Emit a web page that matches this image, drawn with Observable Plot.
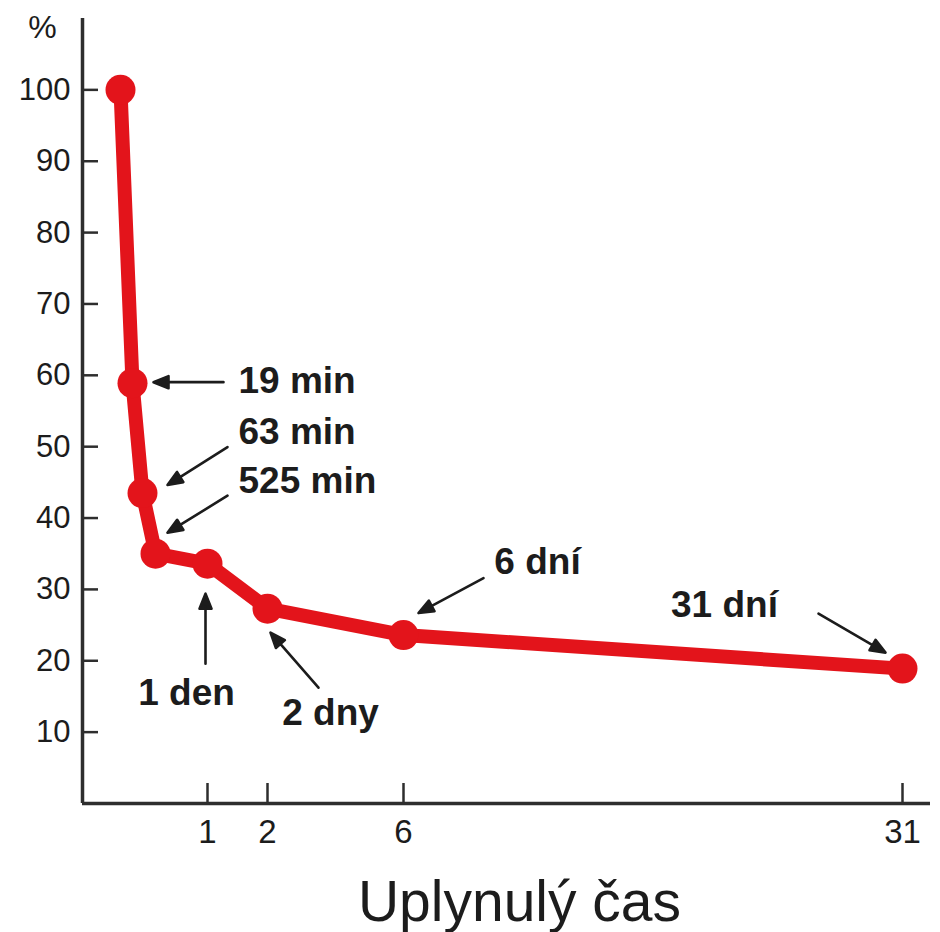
<!DOCTYPE html>
<html>
<head>
<meta charset="utf-8">
<script src="https://cdn.jsdelivr.net/npm/d3@7"></script>
<script src="https://cdn.jsdelivr.net/npm/@observablehq/plot@0.6"></script>
<style>
  html, body { margin: 0; padding: 0; background: #fff; }
  #chart svg { display: block; }
</style>
</head>
<body>
<div id="chart"></div>
<script>
// ---- data ----
const pointLabels = ["0 min", "19 min", "63 min", "525 min", "1 den", "2 dny", "6 dní", "31 dní"];
const elapsedMinutes = [0, 19, 63, 525, 1440, 2880, 8640, 44640];
const retainedPct = [100, 58.9, 43.5, 35.0, 33.6, 27.3, 23.6, 18.9];
const xTickDays = [1, 2, 6, 31];
const yTickValues = [10, 20, 30, 40, 50, 60, 70, 80, 90, 100];
const yAxisLabel = "%";
const xAxisLabel = "Uplynulý čas";

// ---- derived table ----
const points = elapsedMinutes.map((m, i) => ({
  label: pointLabels[i],
  days: m / 1440,
  pct: retainedPct[i]
}));

// ---- layout / style ----
const red = "#e3141b";
const ink = "#1c1c1c";
const axisInk = "#2e2e2e";
const font = "'Liberation Sans', Arial, Helvetica, sans-serif";
const xOrigin = -1; // position of the vertical axis line on the hand-drawn time axis
// hand-drawn, non-uniform time axis (piecewise linear)
const xDomain = [xOrigin, ...points.map(d => d.days)];
const xRange = [82, 120, 132, 142, 155, 207, 267, 403, 902];

// annotation placement relative to its data point (pixels)
const annotationLayout = [
  {i: 1, text: [106, -2], anchor: "start",  tip: [21, -1],  tail: [91, -1]},
  {i: 2, text: [96, -61], anchor: "start",  tip: [25, -8],  tail: [85, -46]},
  {i: 3, text: [83, -73], anchor: "start",  tip: [12, -21], tail: [72, -58]},
  {i: 4, text: [-21, 129], anchor: "middle", tip: [-2, 30], tail: [-2, 100]},
  {i: 5, text: [63, 104], anchor: "middle", tip: [3, 24],   tail: [51, 79]},
  {i: 6, text: [134, -73], anchor: "middle", tip: [15, -22], tail: [80, -57]},
  {i: 7, text: [-178, -63], anchor: "middle", tip: [-17, -16], tail: [-84, -55]}
];

const filledArrow = {
  draw(context, l) {
    const h = 15, w = 6;
    context.moveTo(0, 0);
    context.lineTo(0, -l + h - 2);
    context.moveTo(0, -l);
    context.lineTo(-w, -l + h);
    context.lineTo(w, -l + h);
    context.closePath();
  }
};

const annotationMarks = annotationLayout.flatMap(a => {
  const p = points[a.i];
  const vx = a.tip[0] - a.tail[0], vy = a.tip[1] - a.tail[1];
  const len = Math.hypot(vx, vy);
  const rot = Math.atan2(vx, -vy) * 180 / Math.PI;
  return [
    Plot.vector([p], {
      x: "days", y: "pct", dx: a.tip[0], dy: a.tip[1],
      anchor: "end", length: len, rotate: rot, shape: filledArrow,
      stroke: ink, fill: ink, strokeWidth: 2.6
    }),
    Plot.text([p], {
      x: "days", y: "pct", text: "label", dx: a.text[0], dy: a.text[1],
      textAnchor: a.anchor, lineAnchor: "middle",
      fontSize: 37, fontWeight: "bold", fill: ink
    })
  ];
});

const chart = Plot.plot({
  width: 940,
  height: 932,
  marginLeft: 82,
  marginRight: 10,
  marginTop: 18,
  marginBottom: 129,
  style: {fontFamily: font, background: "#fff", color: ink},
  x: {type: "linear", domain: xDomain, range: xRange, axis: null},
  y: {domain: [0, 110], axis: null},
  marks: [
    Plot.ruleY([0], {stroke: axisInk, strokeWidth: 3.5}),
    Plot.ruleX([xOrigin], {stroke: axisInk, strokeWidth: 3.5}),
    Plot.axisY(yTickValues, {anchor: "left", tickSize: -16, tickPadding: 28, fontSize: 31, strokeWidth: 2.5, stroke: axisInk, fill: ink, label: null}),
    Plot.axisX(xTickDays, {anchor: "bottom", tickSize: -20, tickPadding: 36, fontSize: 33, strokeWidth: 2.5, stroke: axisInk, fill: ink, label: null}),
    Plot.line(points, {x: "days", y: "pct", stroke: red, strokeWidth: 14, strokeLinejoin: "round", strokeLinecap: "round"}),
    Plot.dot(points, {x: "days", y: "pct", r: 15, fill: red, stroke: "none"}),
    ...annotationMarks,
    Plot.text([yAxisLabel], {text: d => d, frameAnchor: "top-left", dx: -40, dy: 9, fontSize: 32, fill: ink, textAnchor: "middle", lineAnchor: "middle"}),
    Plot.text([xAxisLabel], {text: d => d, frameAnchor: "bottom", dx: 13, dy: 99, fontSize: 57, fill: ink, lineAnchor: "middle"})
  ]
});

document.getElementById("chart").appendChild(chart);
</script>
</body>
</html>
